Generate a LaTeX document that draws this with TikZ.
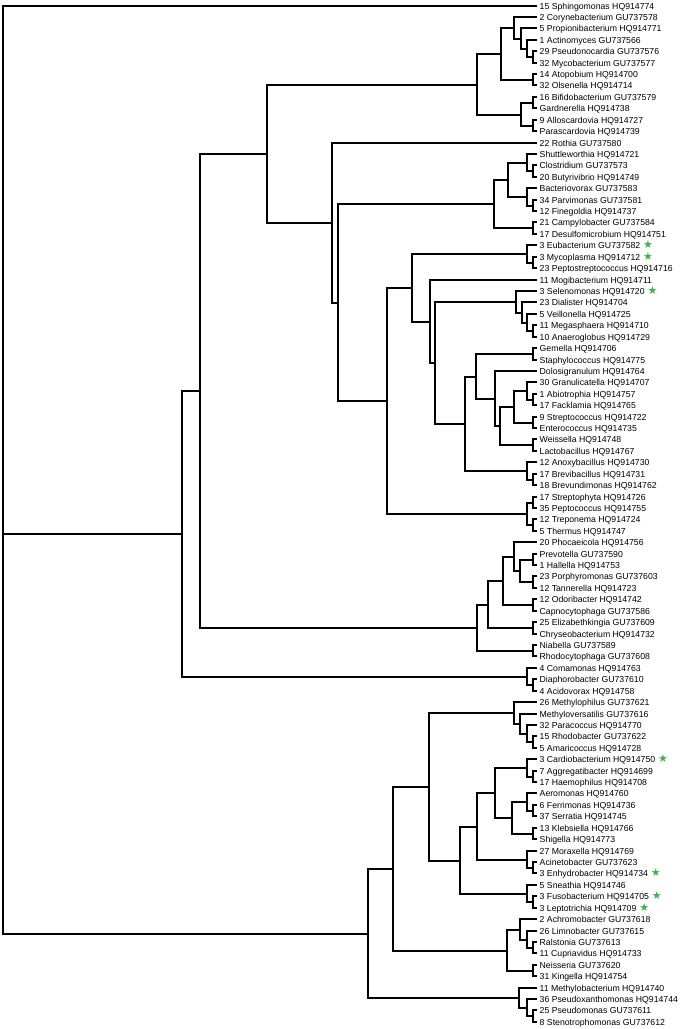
\documentclass[tikz,border=0pt]{standalone}
\usepackage{fontspec}
\setmainfont{Liberation Sans}
\newfontfamily\symfont{DejaVu Sans}
\usetikzlibrary{calc, positioning}
\definecolor{stargreen}{RGB}{59,178,74}

% joins two subtrees at horizontal position #2
\newcommand{\clade}[4]{%
  \path let \p1=(#3), \p2=(#4), \n1={round((\y1+\y2)/2)} in
    coordinate (#1) at (#2pt,\n1);
  \draw[branch] (#1) |- (#3);
  \draw[branch] (#1) |- (#4);
}

\begin{document}
\begin{tikzpicture}[
  x=1pt, y=-1pt,
  branch/.style={line width=2.4pt},
  leaf/.style={inner sep=0pt, text height=6.2pt, text depth=0pt,
               font=\fontsize{8.7}{10}\selectfont},
  starmark/.style={inner sep=0pt, text=stargreen,
                   font=\symfont\fontsize{11}{12}\selectfont}
]
  \useasboundingbox (0,0) rectangle (685,1029);

  % taxa
  \foreach \lab [count=\i] in {
    15 Sphingomonas HQ914774, 2 Corynebacterium GU737578,
    5 Propionibacterium HQ914771, 1 Actinomyces GU737566,
    29 Pseudonocardia GU737576, 32 Mycobacterium GU737577,
    14 Atopobium HQ914700, 32 Olsenella HQ914714,
    16 Bifidobacterium GU737579, Gardnerella HQ914738,
    9 Alloscardovia HQ914727, Parascardovia HQ914739,
    22 Rothia GU737580, Shuttleworthia HQ914721,
    Clostridium GU737573, 20 Butyrivibrio HQ914749,
    Bacteriovorax GU737583, 34 Parvimonas GU737581,
    12 Finegoldia HQ914737, 21 Campylobacter GU737584,
    17 Desulfomicrobium HQ914751, 3 Eubacterium GU737582,
    3 Mycoplasma HQ914712, 23 Peptostreptococcus HQ914716,
    11 Mogibacterium HQ914711, 3 Selenomonas HQ914720,
    23 Dialister HQ914704, 5 Veillonella HQ914725,
    11 Megasphaera HQ914710, 10 Anaeroglobus HQ914729,
    Gemella HQ914706, Staphylococcus HQ914775,
    Dolosigranulum HQ914764, 30 Granulicatella HQ914707,
    1 Abiotrophia HQ914757, 17 Facklamia HQ914765,
    9 Streptococcus HQ914722, Enterococcus HQ914735,
    Weissella HQ914748, Lactobacillus HQ914767,
    12 Anoxybacillus HQ914730, 17 Brevibacillus HQ914731,
    18 Brevundimonas HQ914762, 17 Streptophyta HQ914726,
    35 Peptococcus HQ914755, 12 Treponema HQ914724,
    5 Thermus HQ914747, 20 Phocaeicola HQ914756,
    Prevotella GU737590, 1 Hallella HQ914753,
    23 Porphyromonas GU737603, 12 Tannerella HQ914723,
    12 Odoribacter HQ914742, Capnocytophaga GU737586,
    25 Elizabethkingia GU737609, Chryseobacterium HQ914732,
    Niabella GU737589, Rhodocytophaga GU737608,
    4 Comamonas HQ914763, Diaphorobacter GU737610,
    4 Acidovorax HQ914758, 26 Methylophilus GU737621,
    Methyloversatilis GU737616, 32 Paracoccus HQ914770,
    15 Rhodobacter GU737622, 5 Amaricoccus HQ914728,
    3 Cardiobacterium HQ914750, 7 Aggregatibacter HQ914699,
    17 Haemophilus HQ914708, Aeromonas HQ914760,
    6 Ferrimonas HQ914736, 37 Serratia HQ914745,
    13 Klebsiella HQ914766, Shigella HQ914773,
    27 Moraxella HQ914769, Acinetobacter GU737623,
    3 Enhydrobacter HQ914734, 5 Sneathia HQ914746,
    3 Fusobacterium HQ914705, 3 Leptotrichia HQ914709,
    2 Achromobacter GU737618, 26 Limnobacter GU737615,
    Ralstonia GU737613, 11 Cupriavidus HQ914733,
    Neisseria GU737620, 31 Kingella HQ914754,
    11 Methylobacterium HQ914740, 36 Pseudoxanthomonas HQ914744,
    25 Pseudomonas GU737611, 8 Stenotrophomonas GU737612} {
    \coordinate (t\i) at (537, {round(5.5+(\i-1)*11.42)});
    \node[leaf, right=2.5pt of t\i] (n\i) {\lab};
  }
  \foreach \i in {22,23,26,67,77,79,80}
    \node[starmark, right=2.5pt of n\i] (s\i) {★};

  % Actinobacteria
  \clade{c56}{533}{t5}{t6}
  \clade{c46}{527}{t4}{c56}
  \clade{c36}{521}{t3}{c46}
  \clade{c26}{514}{t2}{c36}
  \clade{c78}{533}{t7}{t8}
  \clade{c28}{501}{c26}{c78}
  \clade{c910}{533}{t9}{t10}
  \clade{c1112}{533}{t11}{t12}
  \clade{bifido}{521}{c910}{c1112}
  \clade{actino}{477}{c28}{bifido}

  % Firmicutes and others
  \clade{c1516}{533}{t15}{t16}
  \clade{c1416}{527}{t14}{c1516}
  \clade{c1819}{533}{t18}{t19}
  \clade{c1719}{527}{t17}{c1819}
  \clade{c1419}{508}{c1416}{c1719}
  \clade{c2021}{533}{t20}{t21}
  \clade{clostr}{494}{c1419}{c2021}
  \clade{c2324}{533}{t23}{t24}
  \clade{eubac}{527}{t22}{c2324}
  \clade{c2930}{533}{t29}{t30}
  \clade{c2830}{527}{t28}{c2930}
  \clade{c2730}{522}{t27}{c2830}
  \clade{veill}{516}{t26}{c2730}
  \clade{c3132}{533}{t31}{t32}
  \clade{c3536}{533}{t35}{t36}
  \clade{c3436}{527}{t34}{c3536}
  \clade{c3738}{533}{t37}{t38}
  \clade{strep}{514}{c3436}{c3738}
  \clade{c3940}{533}{t39}{t40}
  \clade{lacto}{500}{strep}{c3940}
  \clade{c3340}{495}{t33}{lacto}
  \clade{c3140}{476}{c3132}{c3340}
  \clade{c4243}{533}{t42}{t43}
  \clade{bacil}{527}{t41}{c4243}
  \clade{c3143}{465}{c3140}{bacil}
  \clade{c2643}{435}{veill}{c3143}
  \clade{c2543}{430}{t25}{c2643}
  \clade{c2243}{412}{eubac}{c2543}
  \clade{c4445}{533}{t44}{t45}
  \clade{c4647}{533}{t46}{t47}
  \clade{c4447}{527}{c4445}{c4647}
  \clade{c2247}{387}{c2243}{c4447}
  \clade{c1447}{338}{clostr}{c2247}
  \clade{c1347}{332}{t13}{c1447}
  \clade{c0247}{267}{actino}{c1347}

  % Bacteroidetes
  \clade{c4950}{533}{t49}{t50}
  \clade{c5152}{533}{t51}{t52}
  \clade{c4952}{520}{c4950}{c5152}
  \clade{c4852}{514}{t48}{c4952}
  \clade{c5354}{533}{t53}{t54}
  \clade{c4854}{503}{c4852}{c5354}
  \clade{c5556}{533}{t55}{t56}
  \clade{c4856}{488}{c4854}{c5556}
  \clade{c5758}{533}{t57}{t58}
  \clade{bacter}{477}{c4856}{c5758}
  \clade{c0258}{200}{c0247}{bacter}
  \clade{c6061}{533}{t60}{t61}
  \clade{comam}{527}{t59}{c6061}
  \clade{c0261}{182}{c0258}{comam}

  % Proteobacteria, Fusobacteria
  \clade{c6566}{533}{t65}{t66}
  \clade{c6466}{527}{t64}{c6566}
  \clade{c6366}{520}{t63}{c6466}
  \clade{methyl}{514}{t62}{c6366}
  \clade{c6869}{533}{t68}{t69}
  \clade{cardio}{527}{t67}{c6869}
  \clade{c7172}{533}{t71}{t72}
  \clade{c7072}{527}{t70}{c7172}
  \clade{c7374}{533}{t73}{t74}
  \clade{entero}{512}{c7072}{c7374}
  \clade{c6774}{495}{cardio}{entero}
  \clade{c7677}{533}{t76}{t77}
  \clade{morax}{527}{t75}{c7677}
  \clade{c6777}{477}{c6774}{morax}
  \clade{c7980}{533}{t79}{t80}
  \clade{fuso}{527}{t78}{c7980}
  \clade{c6780}{460}{c6777}{fuso}
  \clade{c6280}{429}{methyl}{c6780}
  \clade{c8384}{533}{t83}{t84}
  \clade{c8284}{527}{t82}{c8384}
  \clade{c8184}{520}{t81}{c8284}
  \clade{c8586}{533}{t85}{t86}
  \clade{burk}{507}{c8184}{c8586}
  \clade{c6286}{393}{c6280}{burk}
  \clade{c8990}{533}{t89}{t90}
  \clade{c8890}{527}{t88}{c8990}
  \clade{pseudo}{519}{t87}{c8890}
  \clade{c6290}{368}{c6286}{pseudo}

  % root
  \coordinate (root) at (3,500);
  \draw[branch] (root) |- (t1);
  \draw[branch] (root) |- (c0261);
  \draw[branch] (root) |- (c6290);
\end{tikzpicture}
\end{document}
